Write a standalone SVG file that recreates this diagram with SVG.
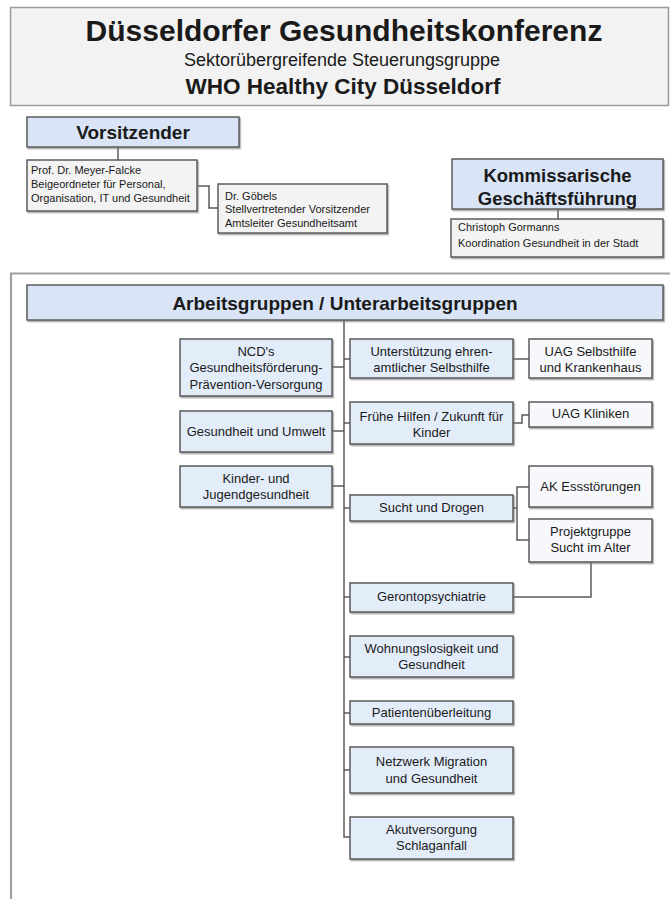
<svg xmlns="http://www.w3.org/2000/svg" width="670" height="899" viewBox="0 0 670 899">
<defs>
<filter id="sh" x="-5%" y="-10%" width="110%" height="130%">
<feDropShadow dx="1.2" dy="1.5" stdDeviation="0.7" flood-color="#777" flood-opacity="0.6"/>
</filter>
</defs>
<style>
text{font-family:"Liberation Sans",Arial,Helvetica,sans-serif;fill:#1a1a1a}
.hd{fill:#f2f2f2;stroke:#9a9a9a;stroke-width:1.5}
.frame{fill:none;stroke:#a0a0a0;stroke-width:2.2}
.blue{fill:#d9e5f7;stroke:#5b5b5b;stroke-width:1.5;filter:url(#sh)}
.lb{fill:#e3edfa;stroke:#5b5b5b;stroke-width:1.5;filter:url(#sh)}
.wh{fill:#f6f8fc;stroke:#5b5b5b;stroke-width:1.5;filter:url(#sh)}
.gr{fill:#f3f3f3;stroke:#5b5b5b;stroke-width:1.5;filter:url(#sh)}
.c{fill:none;stroke:#5b5b5b;stroke-width:1.5}
.t13{font-size:13px;text-anchor:middle}
.t11{font-size:11px}
.bh{font-weight:bold;text-anchor:middle}
</style>

<g id="header">
<rect class="hd" x="10.5" y="7.5" width="658" height="98"/>
<text class="bh" x="344" y="41" font-size="30">Düsseldorfer Gesundheitskonferenz</text>
<text x="342" y="66" font-size="18" text-anchor="middle">Sektorübergreifende Steuerungsgruppe</text>
<text class="bh" x="343" y="94" font-size="22.5">WHO Healthy City Düsseldorf</text>
</g>

<g id="frame">
<path class="frame" d="M11,905 V273.5 H672"/>
</g>

<g id="connectors">
<path class="c" d="M118,147 V160"/>
<path class="c" d="M197,186 H209 V208 H218"/>
<path class="c" d="M558,209 V219"/>
<path class="c" d="M344,320 V837 H350"/>
<path class="c" d="M332,367 H344"/>
<path class="c" d="M332,431 H344"/>
<path class="c" d="M332,486 H344"/>
<path class="c" d="M344,359 H350"/>
<path class="c" d="M344,423 H350"/>
<path class="c" d="M344,508 H350"/>
<path class="c" d="M344,597 H350"/>
<path class="c" d="M344,657 H350"/>
<path class="c" d="M344,713 H350"/>
<path class="c" d="M344,770 H350"/>
<path class="c" d="M513,359 H529"/>
<path class="c" d="M513,423 H522 V415 H529"/>
<path class="c" d="M513,508 H517"/>
<path class="c" d="M529,487 H517 V540 H529"/>
<path class="c" d="M513,597 H591 V562"/>
</g>

<g id="vorsitzender">
<rect class="blue" x="27" y="117" width="212" height="30"/>
<text class="bh" x="133" y="139" font-size="19">Vorsitzender</text>
</g>

<g id="meyer-falcke">
<rect class="gr" x="27" y="160" width="170" height="51"/>
<text class="t11" x="31" y="174">Prof. Dr. Meyer-Falcke</text>
<text class="t11" x="31" y="188">Beigeordneter für Personal,</text>
<text class="t11" x="31" y="202">Organisation, IT und Gesundheit</text>
</g>

<g id="goebels">
<rect class="gr" x="218" y="184" width="169" height="49"/>
<text class="t11" x="225" y="200">Dr. Göbels</text>
<text class="t11" x="225" y="213">Stellvertretender Vorsitzender</text>
<text class="t11" x="225" y="227">Amtsleiter Gesundheitsamt</text>
</g>

<g id="kommissarische">
<rect class="blue" x="452" y="159" width="211" height="50"/>
<text class="bh" x="557.5" y="182" font-size="18.5">Kommissarische</text>
<text class="bh" x="557.5" y="205" font-size="18.5">Geschäftsführung</text>
</g>

<g id="gormanns">
<rect class="gr" x="451" y="219" width="212" height="38"/>
<text class="t11" x="458" y="231">Christoph Gormanns</text>
<text class="t11" x="458" y="247">Koordination Gesundheit in der Stadt</text>
</g>

<g id="arbeitsgruppen">
<rect class="blue" x="27" y="285" width="636" height="35"/>
<text class="bh" x="345" y="310" font-size="19">Arbeitsgruppen / Unterarbeitsgruppen</text>
</g>

<g id="ncd">
<rect class="lb" x="180" y="339" width="152" height="57"/>
<text class="t13" x="256" y="356">NCD's</text>
<text class="t13" x="256" y="372">Gesundheitsförderung-</text>
<text class="t13" x="256" y="389">Prävention-Versorgung</text>
</g>

<g id="umwelt">
<rect class="lb" x="180" y="411" width="152" height="41"/>
<text class="t13" x="256" y="436">Gesundheit und Umwelt</text>
</g>

<g id="kinder">
<rect class="lb" x="180" y="466" width="152" height="41"/>
<text class="t13" x="256" y="483">Kinder- und</text>
<text class="t13" x="256" y="499">Jugendgesundheit</text>
</g>

<g id="selbsthilfe">
<rect class="lb" x="350" y="339" width="163" height="39"/>
<text class="t13" x="431.5" y="356">Unterstützung ehren-</text>
<text class="t13" x="431.5" y="372">amtlicher Selbsthilfe</text>
</g>

<g id="uag-selbsthilfe">
<rect class="wh" x="529" y="339" width="123" height="39"/>
<text class="t13" x="590.5" y="356">UAG Selbsthilfe</text>
<text class="t13" x="590.5" y="372">und Krankenhaus</text>
</g>

<g id="fruehe-hilfen">
<rect class="lb" x="350" y="402" width="163" height="42"/>
<text class="t13" x="431.5" y="421">Frühe Hilfen / Zukunft für</text>
<text class="t13" x="431.5" y="437">Kinder</text>
</g>

<g id="uag-kliniken">
<rect class="wh" x="529" y="402" width="123" height="25"/>
<text class="t13" x="590.5" y="418">UAG Kliniken</text>
</g>

<g id="sucht">
<rect class="lb" x="350" y="495" width="163" height="26"/>
<text class="t13" x="431.5" y="512">Sucht und Drogen</text>
</g>

<g id="ak-ess">
<rect class="wh" x="529" y="466" width="123" height="41"/>
<text class="t13" x="590.5" y="491">AK Essstörungen</text>
</g>

<g id="projektgruppe">
<rect class="wh" x="529" y="519" width="123" height="43"/>
<text class="t13" x="590.5" y="536">Projektgruppe</text>
<text class="t13" x="590.5" y="552">Sucht im Alter</text>
</g>

<g id="geronto">
<rect class="lb" x="350" y="583" width="163" height="29"/>
<text class="t13" x="431.5" y="601">Gerontopsychiatrie</text>
</g>

<g id="wohnungslosigkeit">
<rect class="lb" x="350" y="636" width="163" height="41"/>
<text class="t13" x="431.5" y="653">Wohnungslosigkeit und</text>
<text class="t13" x="431.5" y="669">Gesundheit</text>
</g>

<g id="patienten">
<rect class="lb" x="350" y="701" width="163" height="23"/>
<text class="t13" x="431.5" y="717">Patientenüberleitung</text>
</g>

<g id="migration">
<rect class="lb" x="350" y="747" width="163" height="46"/>
<text class="t13" x="431.5" y="766">Netzwerk Migration</text>
<text class="t13" x="431.5" y="783">und Gesundheit</text>
</g>

<g id="akut">
<rect class="lb" x="350" y="817" width="163" height="42"/>
<text class="t13" x="431.5" y="834">Akutversorgung</text>
<text class="t13" x="431.5" y="850">Schlaganfall</text>
</g>
</svg>
